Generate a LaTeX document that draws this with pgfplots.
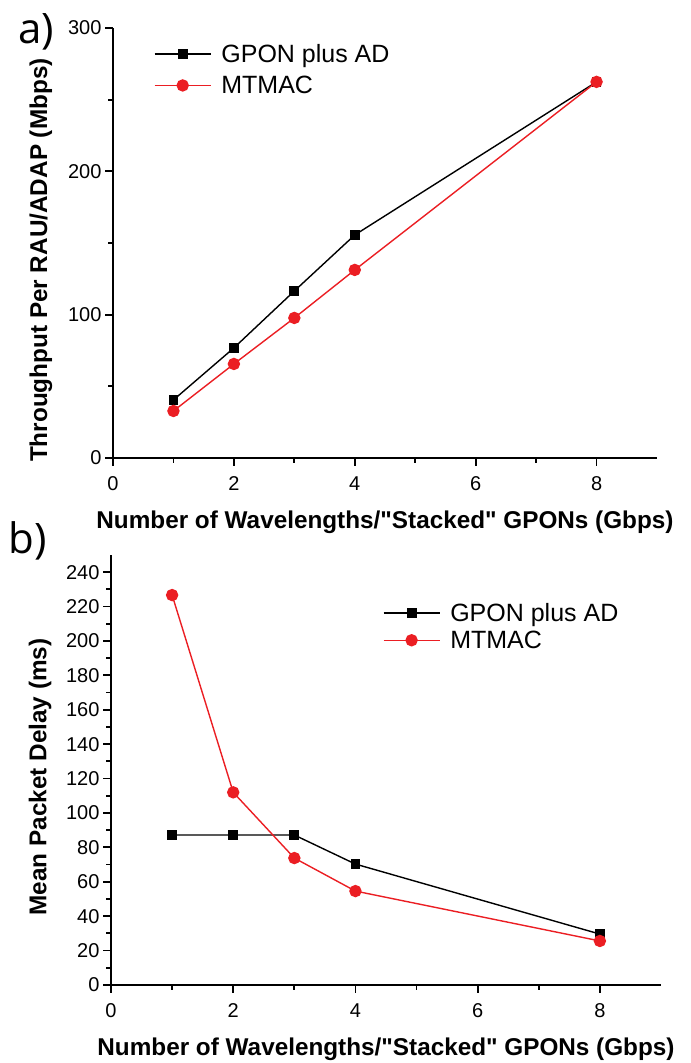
\documentclass[border=0pt]{standalone}
\usepackage{fontspec}
\setmainfont{Liberation Sans}
\newfontfamily\panelfont{Open Sans}
\usepackage{pgfplots}
\pgfplotsset{compat=1.18}

\definecolor{mtred}{RGB}{235,30,35}

\pgfplotsset{
  panel/.style={
    scale only axis,
    axis lines*=left,
    axis line style={line width=2bp},
    tick align=outside,
    major tick length=8bp,
    minor tick length=5bp,
    every tick/.style={line width=1.8bp, black},
    xmin=0, xmax=9,
    xtick={0,2,4,6,8},
    minor x tick num=1,
    minor y tick num=1,
    tick label style={font=\fontsize{20bp}{23bp}\selectfont},
    xticklabel style={yshift=-7bp},
    /pgf/number format/assume math mode=true,
    label style={font=\fontsize{24.3bp}{27bp}\selectfont\bfseries},
    xlabel={Number of Wavelengths/\textquotedbl Stacked\textquotedbl\ GPONs (Gbps)},
    xlabel style={at={(axis description cs:0.5,0)}, anchor=center, yshift=-64bp},
    legend cell align=left,
    legend style={draw=none, fill=none, font=\fontsize{25bp}{29bp}\selectfont,
      inner sep=0pt, column sep=8bp},
    legend image code/.code={
      \draw[mark repeat=2, mark phase=2, #1] plot coordinates {(0bp,0bp) (28bp,0bp) (56bp,0bp)};
    },
  },
  gpon/.style={black, line width=1.4bp, mark=square*, mark size=4.2bp, mark options={solid}},
  mtmac/.style={mtred, line width=1.4bp, mark=*, mark size=5.5bp, mark options={solid}},
}

\begin{document}
\begin{tikzpicture}[x=1bp, y=1bp]
\useasboundingbox (0,0) rectangle (691,1063);

\begin{axis}[panel,
  at={(113bp,605bp)}, anchor=south west,
  width=544bp, height=430bp,
  ymin=0, ymax=300, ytick={0,100,200,300},
  ylabel={Throughput Per RAU/ADAP (Mbps)},
  ylabel style={at={(axis description cs:0,0.46)}, anchor=center, yshift=72bp},
  legend style={at={(0.075,0.967)}, anchor=north west, row sep=8bp},
]
\addplot[gpon] coordinates {(1,40.5) (2,76.8) (3,116.5) (4,155.6) (8,262.4)};
\addlegendentry{GPON plus AD}
\addplot[mtmac] coordinates {(1,32.8) (2,65.6) (3,97.7) (4,131.2) (8,262.4)};
\addlegendentry{MTMAC}
\end{axis}

\begin{axis}[panel,
  at={(111bp,78bp)}, anchor=south west,
  width=550bp, height=430bp,
  ymin=0, ymax=250, ytick={0,20,...,240},
  ylabel={Mean Packet Delay (ms)},
  ylabel style={at={(axis description cs:0,0.484)}, anchor=center, yshift=71bp},
  legend style={at={(0.494,0.893)}, anchor=north west, row sep=4bp},
]
\addplot[gpon] coordinates {(1,87.2) (2,87.2) (3,87.2) (4,70.3) (8,29.6)};
\addlegendentry{GPON plus AD}
\addplot[mtmac] coordinates {(1,226.7) (2,112.0) (3,73.8) (4,54.6) (8,25.6)};
\addlegendentry{MTMAC}
\end{axis}

\node[font=\panelfont\fontsize{42bp}{44bp}\selectfont] at (36,1031) {a)};
\node[font=\panelfont\fontsize{42bp}{44bp}\selectfont] at (28,522) {b)};
\end{tikzpicture}
\end{document}
